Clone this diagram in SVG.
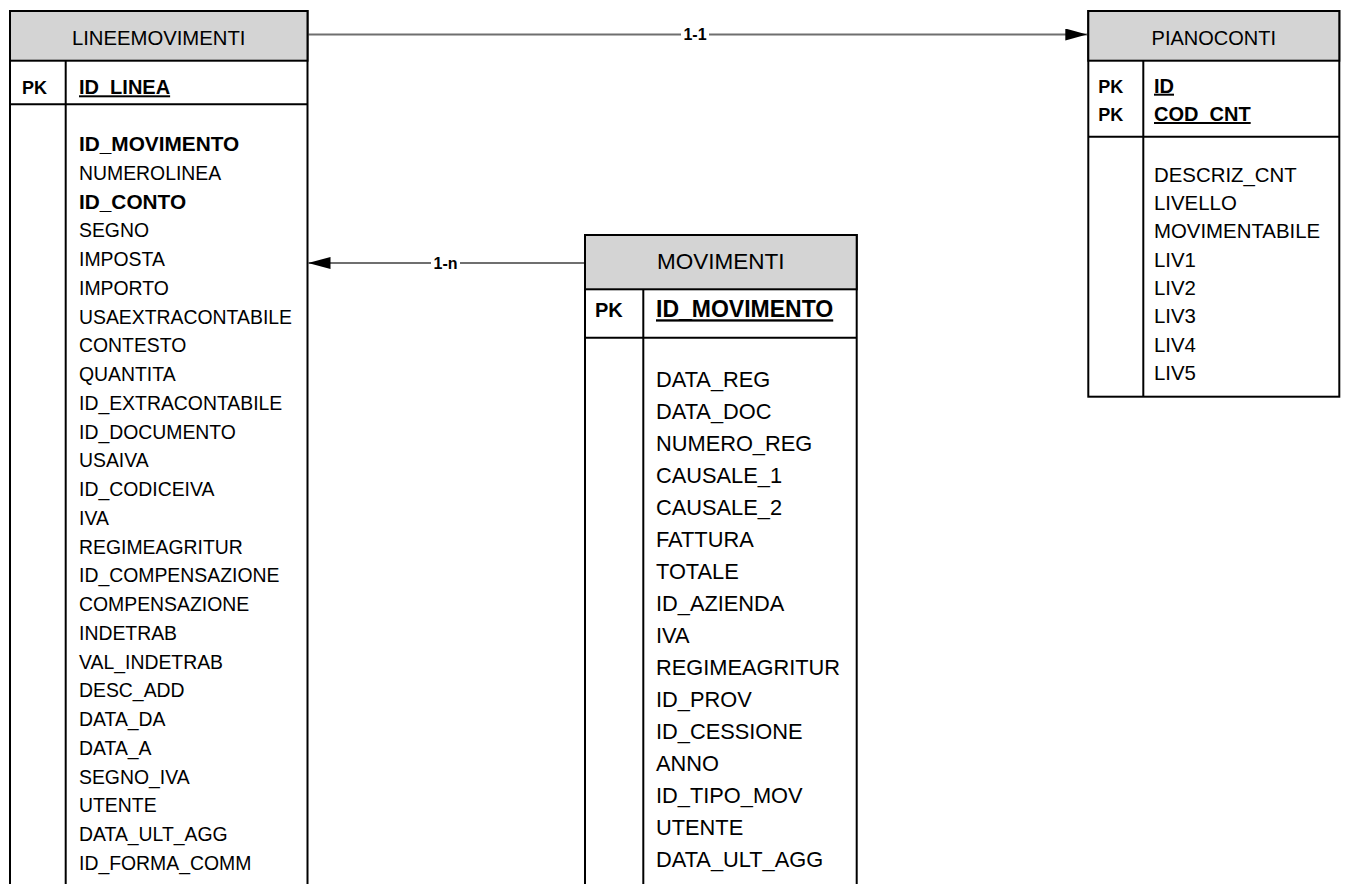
<svg xmlns="http://www.w3.org/2000/svg" width="1347" height="884" viewBox="0 0 1347 884">
<style>
  text { font-family: "Liberation Sans", Arial, sans-serif; fill: #000; }
  .box { fill: #fff; stroke: #000; stroke-width: 2; }
  .hdr { fill: #d4d4d4; stroke: #000; stroke-width: 2; }
  .sep { stroke: #000; stroke-width: 2; fill: none; }
  .conn { stroke: #6f6f6f; stroke-width: 1.8; fill: none; }
  .lbl { font-weight: bold; font-size: 16px; text-anchor: middle; }
  .lblbg { fill: #fff; }
  .pk { font-weight: bold; }
  .u { font-weight: bold; text-decoration: underline; }
  .b { font-weight: bold; }
  .f1 { font-size: 19.4px; }
  .f2 { font-size: 20.4px; }
  .f3 { font-size: 21.8px; }
</style>
<defs>
  <marker id="arrow" viewBox="0 0 22 12" refX="22" refY="6" markerWidth="22" markerHeight="12" markerUnits="userSpaceOnUse" orient="auto">
    <path d="M0,0 L22,6 L0,12 Z" fill="#000"/>
  </marker>
</defs>

<g id="connectors">
  <line class="conn" x1="308.5" y1="34.5" x2="1087.3" y2="34.5" marker-end="url(#arrow)"/>
  <rect class="lblbg" x="681" y="24" width="28" height="20"/>
  <text class="lbl" x="695" y="40.2">1-1</text>
  <line class="conn" x1="584" y1="263" x2="308.5" y2="263" marker-end="url(#arrow)"/>
  <rect class="lblbg" x="431" y="253" width="29" height="20"/>
  <text class="lbl" x="445.5" y="268.7">1-n</text>
</g>

<g id="LINEEMOVIMENTI">
  <rect class="box" x="10" y="11" width="297.5" height="900"/>
  <rect class="hdr" x="10" y="11" width="297.5" height="49.7"/>
  <line class="sep" x1="10" y1="104.3" x2="307.5" y2="104.3"/>
  <line class="sep" x1="65.7" y1="60.7" x2="65.7" y2="911"/>
  <text x="158.7" y="45" font-size="20.3" text-anchor="middle">LINEEMOVIMENTI</text>
  <text class="pk" x="22" y="94.3" font-size="18">PK</text>
  <text class="u" x="79" y="94.3" font-size="20">ID_LINEA</text>
  <text class="b" x="79" y="151" font-size="20.8">ID_MOVIMENTO</text>
  <text class="f1" x="79" y="179.75">NUMEROLINEA</text>
  <text class="b" x="79" y="208.5" font-size="20.8">ID_CONTO</text>
  <text class="f1" x="79" y="237.25">SEGNO</text>
  <text class="f1" x="79" y="266">IMPOSTA</text>
  <text class="f1" x="79" y="294.75">IMPORTO</text>
  <text class="f1" x="79" y="323.5">USAEXTRACONTABILE</text>
  <text class="f1" x="79" y="352.25">CONTESTO</text>
  <text class="f1" x="79" y="381">QUANTITA</text>
  <text class="f1" x="79" y="409.75">ID_EXTRACONTABILE</text>
  <text class="f1" x="79" y="438.5">ID_DOCUMENTO</text>
  <text class="f1" x="79" y="467.25">USAIVA</text>
  <text class="f1" x="79" y="496">ID_CODICEIVA</text>
  <text class="f1" x="79" y="524.75">IVA</text>
  <text class="f1" x="79" y="553.5">REGIMEAGRITUR</text>
  <text class="f1" x="79" y="582.25">ID_COMPENSAZIONE</text>
  <text class="f1" x="79" y="611">COMPENSAZIONE</text>
  <text class="f1" x="79" y="639.75">INDETRAB</text>
  <text class="f1" x="79" y="668.5">VAL_INDETRAB</text>
  <text class="f1" x="79" y="697.25">DESC_ADD</text>
  <text class="f1" x="79" y="726">DATA_DA</text>
  <text class="f1" x="79" y="754.75">DATA_A</text>
  <text class="f1" x="79" y="783.5">SEGNO_IVA</text>
  <text class="f1" x="79" y="812.25">UTENTE</text>
  <text class="f1" x="79" y="841">DATA_ULT_AGG</text>
  <text class="f1" x="79" y="869.75">ID_FORMA_COMM</text>
</g>

<g id="PIANOCONTI">
  <rect class="box" x="1088.3" y="11" width="251" height="385.7"/>
  <rect class="hdr" x="1088.3" y="11" width="251" height="49.7"/>
  <line class="sep" x1="1088.3" y1="136.7" x2="1339.3" y2="136.7"/>
  <line class="sep" x1="1143.3" y1="60.7" x2="1143.3" y2="396.7"/>
  <text x="1213.8" y="44.5" font-size="20" text-anchor="middle">PIANOCONTI</text>
  <text class="pk" x="1098.3" y="92.7" font-size="18">PK</text>
  <text class="pk" x="1098.3" y="121" font-size="18">PK</text>
  <text class="u" x="1154" y="92.7" font-size="20">ID</text>
  <text class="u" x="1154" y="121" font-size="20">COD_CNT</text>
  <text class="f2" x="1154" y="181.7">DESCRIZ_CNT</text>
  <text class="f2" x="1154" y="210">LIVELLO</text>
  <text class="f2" x="1154" y="238.3">MOVIMENTABILE</text>
  <text class="f2" x="1154" y="266.7">LIV1</text>
  <text class="f2" x="1154" y="295">LIV2</text>
  <text class="f2" x="1154" y="323.3">LIV3</text>
  <text class="f2" x="1154" y="351.7">LIV4</text>
  <text class="f2" x="1154" y="380">LIV5</text>
</g>

<g id="MOVIMENTI">
  <rect class="box" x="585" y="235" width="271.7" height="676"/>
  <rect class="hdr" x="585" y="235" width="271.7" height="54.3"/>
  <line class="sep" x1="585" y1="337.7" x2="856.7" y2="337.7"/>
  <line class="sep" x1="643.3" y1="289.3" x2="643.3" y2="911"/>
  <text x="720.8" y="269.3" font-size="22.5" text-anchor="middle">MOVIMENTI</text>
  <text class="pk" x="595" y="317.3" font-size="20">PK</text>
  <text class="u" x="656" y="317.3" font-size="23">ID_MOVIMENTO</text>
  <text class="f3" x="656" y="387.3">DATA_REG</text>
  <text class="f3" x="656" y="419.3">DATA_DOC</text>
  <text class="f3" x="656" y="451.3">NUMERO_REG</text>
  <text class="f3" x="656" y="483.3">CAUSALE_1</text>
  <text class="f3" x="656" y="515.3">CAUSALE_2</text>
  <text class="f3" x="656" y="547.3">FATTURA</text>
  <text class="f3" x="656" y="579.3">TOTALE</text>
  <text class="f3" x="656" y="611.3">ID_AZIENDA</text>
  <text class="f3" x="656" y="643.3">IVA</text>
  <text class="f3" x="656" y="675.3">REGIMEAGRITUR</text>
  <text class="f3" x="656" y="707.3">ID_PROV</text>
  <text class="f3" x="656" y="739.3">ID_CESSIONE</text>
  <text class="f3" x="656" y="771.3">ANNO</text>
  <text class="f3" x="656" y="803.3">ID_TIPO_MOV</text>
  <text class="f3" x="656" y="835.3">UTENTE</text>
  <text class="f3" x="656" y="867.3">DATA_ULT_AGG</text>
</g>
</svg>
